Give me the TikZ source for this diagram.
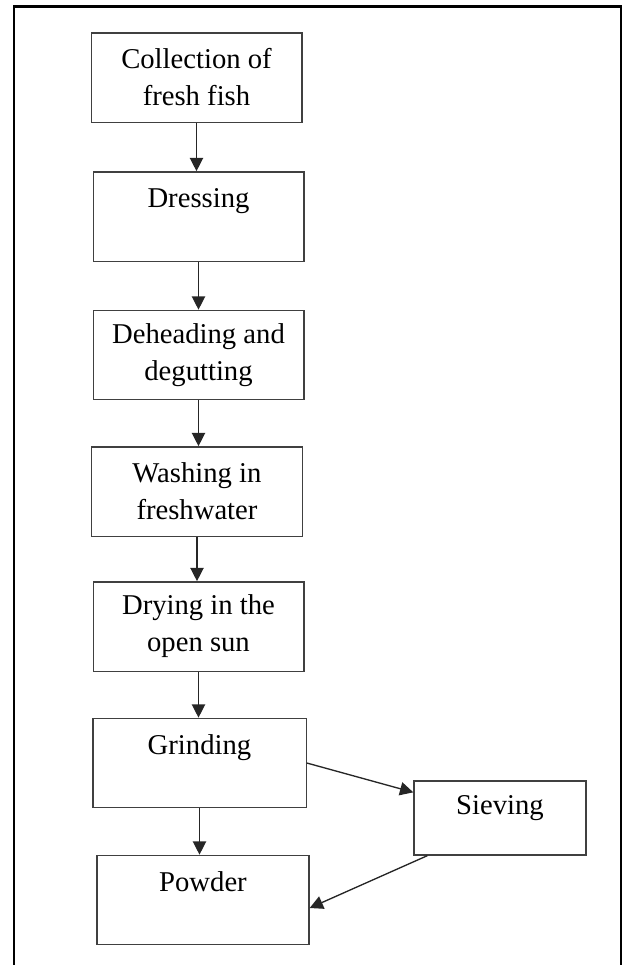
\documentclass[tikz,border=0pt]{standalone}
\usepackage{fontspec}
\setmainfont{Liberation Serif}
\usetikzlibrary{arrows.meta}
\tikzset{
  stepbox/.style={draw=black!75, line width=1pt, minimum width=158pt, minimum height=67pt,
    inner sep=0pt, align=center, font=\fontsize{21.5}{27.75}\selectfont},
  flow/.style={draw=black!85, line width=1pt, -{Triangle[length=10pt,width=10pt]}},
}
\begin{document}
\begin{tikzpicture}
[x=0.75pt,y=-0.75pt]
\useasboundingbox (0,0) rectangle (623,965);
\draw[line width=1.7pt] (14,965) -- (14,6.5) -- (621,6.5) -- (621,965);

\node[stepbox] (collect) at (196.5,77.5) {Collection of\\fresh fish};
\node[stepbox] (dress) at (198.5,216.5) {Dressing\\~};
\node[stepbox] (dehead) at (198.5,355) {Deheading and\\degutting};
\node[stepbox] (wash) at (197,491.5) {Washing in\\freshwater};
\node[stepbox] (dry) at (198.5,626.5) {Drying in the\\open sun};
\node[stepbox,minimum width=160pt] (grind) at (199.5,763) {Grinding\\~};
\node[stepbox,minimum width=159pt] (powder) at (203,900) {Powder\\~};
\node[stepbox,minimum width=129pt,minimum height=55.5pt,text depth=19pt] (sieve) at (500,818) {Sieving};

\foreach \a/\b in {collect/dress,dress/dehead,dehead/wash,wash/dry,dry/grind,grind/powder}
{
  \draw[flow] (\a.south) -- (\a.south |- \b.north);
}

\draw[flow] (grind.east) -- ([yshift=-9pt]sieve.north west);
\draw[flow] ([xshift=10.5pt]sieve.south west) -- ([yshift=-6pt]powder.east);
\end{tikzpicture}
\end{document}
